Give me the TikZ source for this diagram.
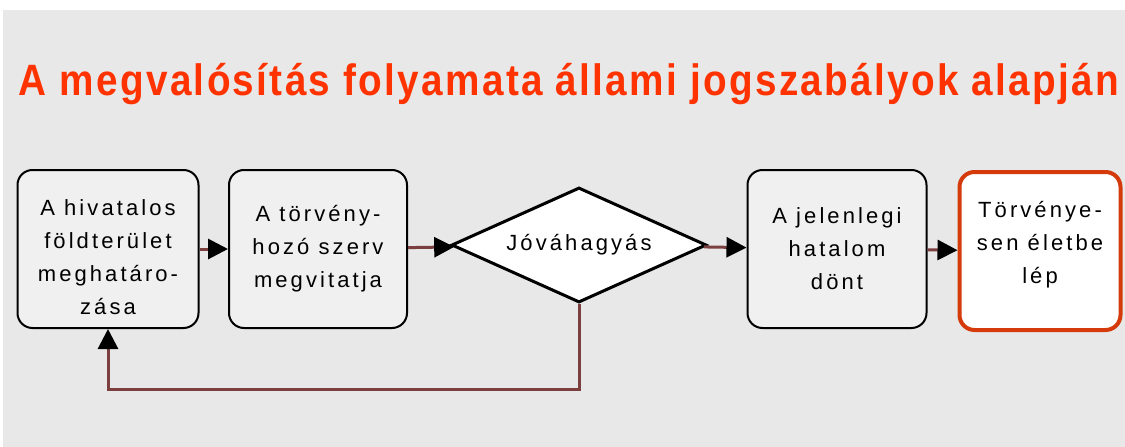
\documentclass[tikz,border=0pt]{standalone}
\usepackage{fontspec}
\setmainfont{Liberation Sans}
\newfontfamily\boxfont[LetterSpace=14]{Liberation Sans}
\newfontfamily\titlefont[LetterSpace=6]{Liberation Sans}
\usetikzlibrary{shapes.geometric,arrows.meta}
\definecolor{bg}{HTML}{E8E8E8}
\definecolor{boxfill}{HTML}{F0F0F0}
\definecolor{flowc}{HTML}{7B3F3F}
\definecolor{titlec}{HTML}{FF3300}
\definecolor{endc}{HTML}{D43A0A}
\tikzset{
  boxtext/.style={align=center, font=\boxfont\fontsize{22}{33}\selectfont, inner sep=0pt},
  stepbox/.style={boxtext, draw=black, line width=2pt, rounded corners=15pt, fill=boxfill,
    minimum height=158pt},
  endbox/.style={stepbox, draw=endc, line width=4pt, fill=white},
  decision/.style={draw=black, line width=3pt, diamond, aspect=2.2, fill=white,
    minimum width=255pt, minimum height=115pt, inner sep=0pt, font=\boxfont\fontsize{22}{33}\selectfont},
  flow/.style={draw=flowc, line width=3pt, -{Triangle[length=20pt,width=20pt,color=black,fill=black]}}
}
\begin{document}
\begin{tikzpicture}[x=1pt,y=-1pt]
\useasboundingbox (0,0) rectangle (1125,447);
\fill[white] (0,0) rectangle (1125,447);
\fill[bg] (3,10) rectangle (1125,447);
\node[anchor=base, text=titlec, font=\titlefont\bfseries\fontsize{36}{40}\selectfont, inner sep=0] (title) at (569,95) {\scalebox{1.075}[1.22]{A megvalósítás folyamata állami jogszabályok alapján}};
\node[stepbox, minimum width=181pt] (b1) at (108,249) {};
\node[boxtext] (t1) at (108,257) {A hivatalos\\földterület\\meghatáro-\\zása};
\node[stepbox, minimum width=178pt] (b2) at (318,249) {A törvény-\\hozó szerv\\megvitatja};
\node[decision] (dia) at (579,245) {\raisebox{-3pt}{Jóváhagyás}};
\node[stepbox, minimum width=179pt] (b4) at (837,249) {A jelenlegi\\hatalom\\dönt};
\node[endbox, minimum width=161pt] (b5) at (1040,251) {};
\node[boxtext] (t5) at (1040,245) {Törvénye-\\sen életbe\\lép};
\draw[flow] (b1) -- (b2);
\draw[flow] (b2) -- (dia);
\draw[flow] (dia) -- (b4);
\draw[flow] (b4) -- (b5);
\draw[flow] (dia.south) -- ++(0,85) -| (b1.south);
\end{tikzpicture}
\end{document}
